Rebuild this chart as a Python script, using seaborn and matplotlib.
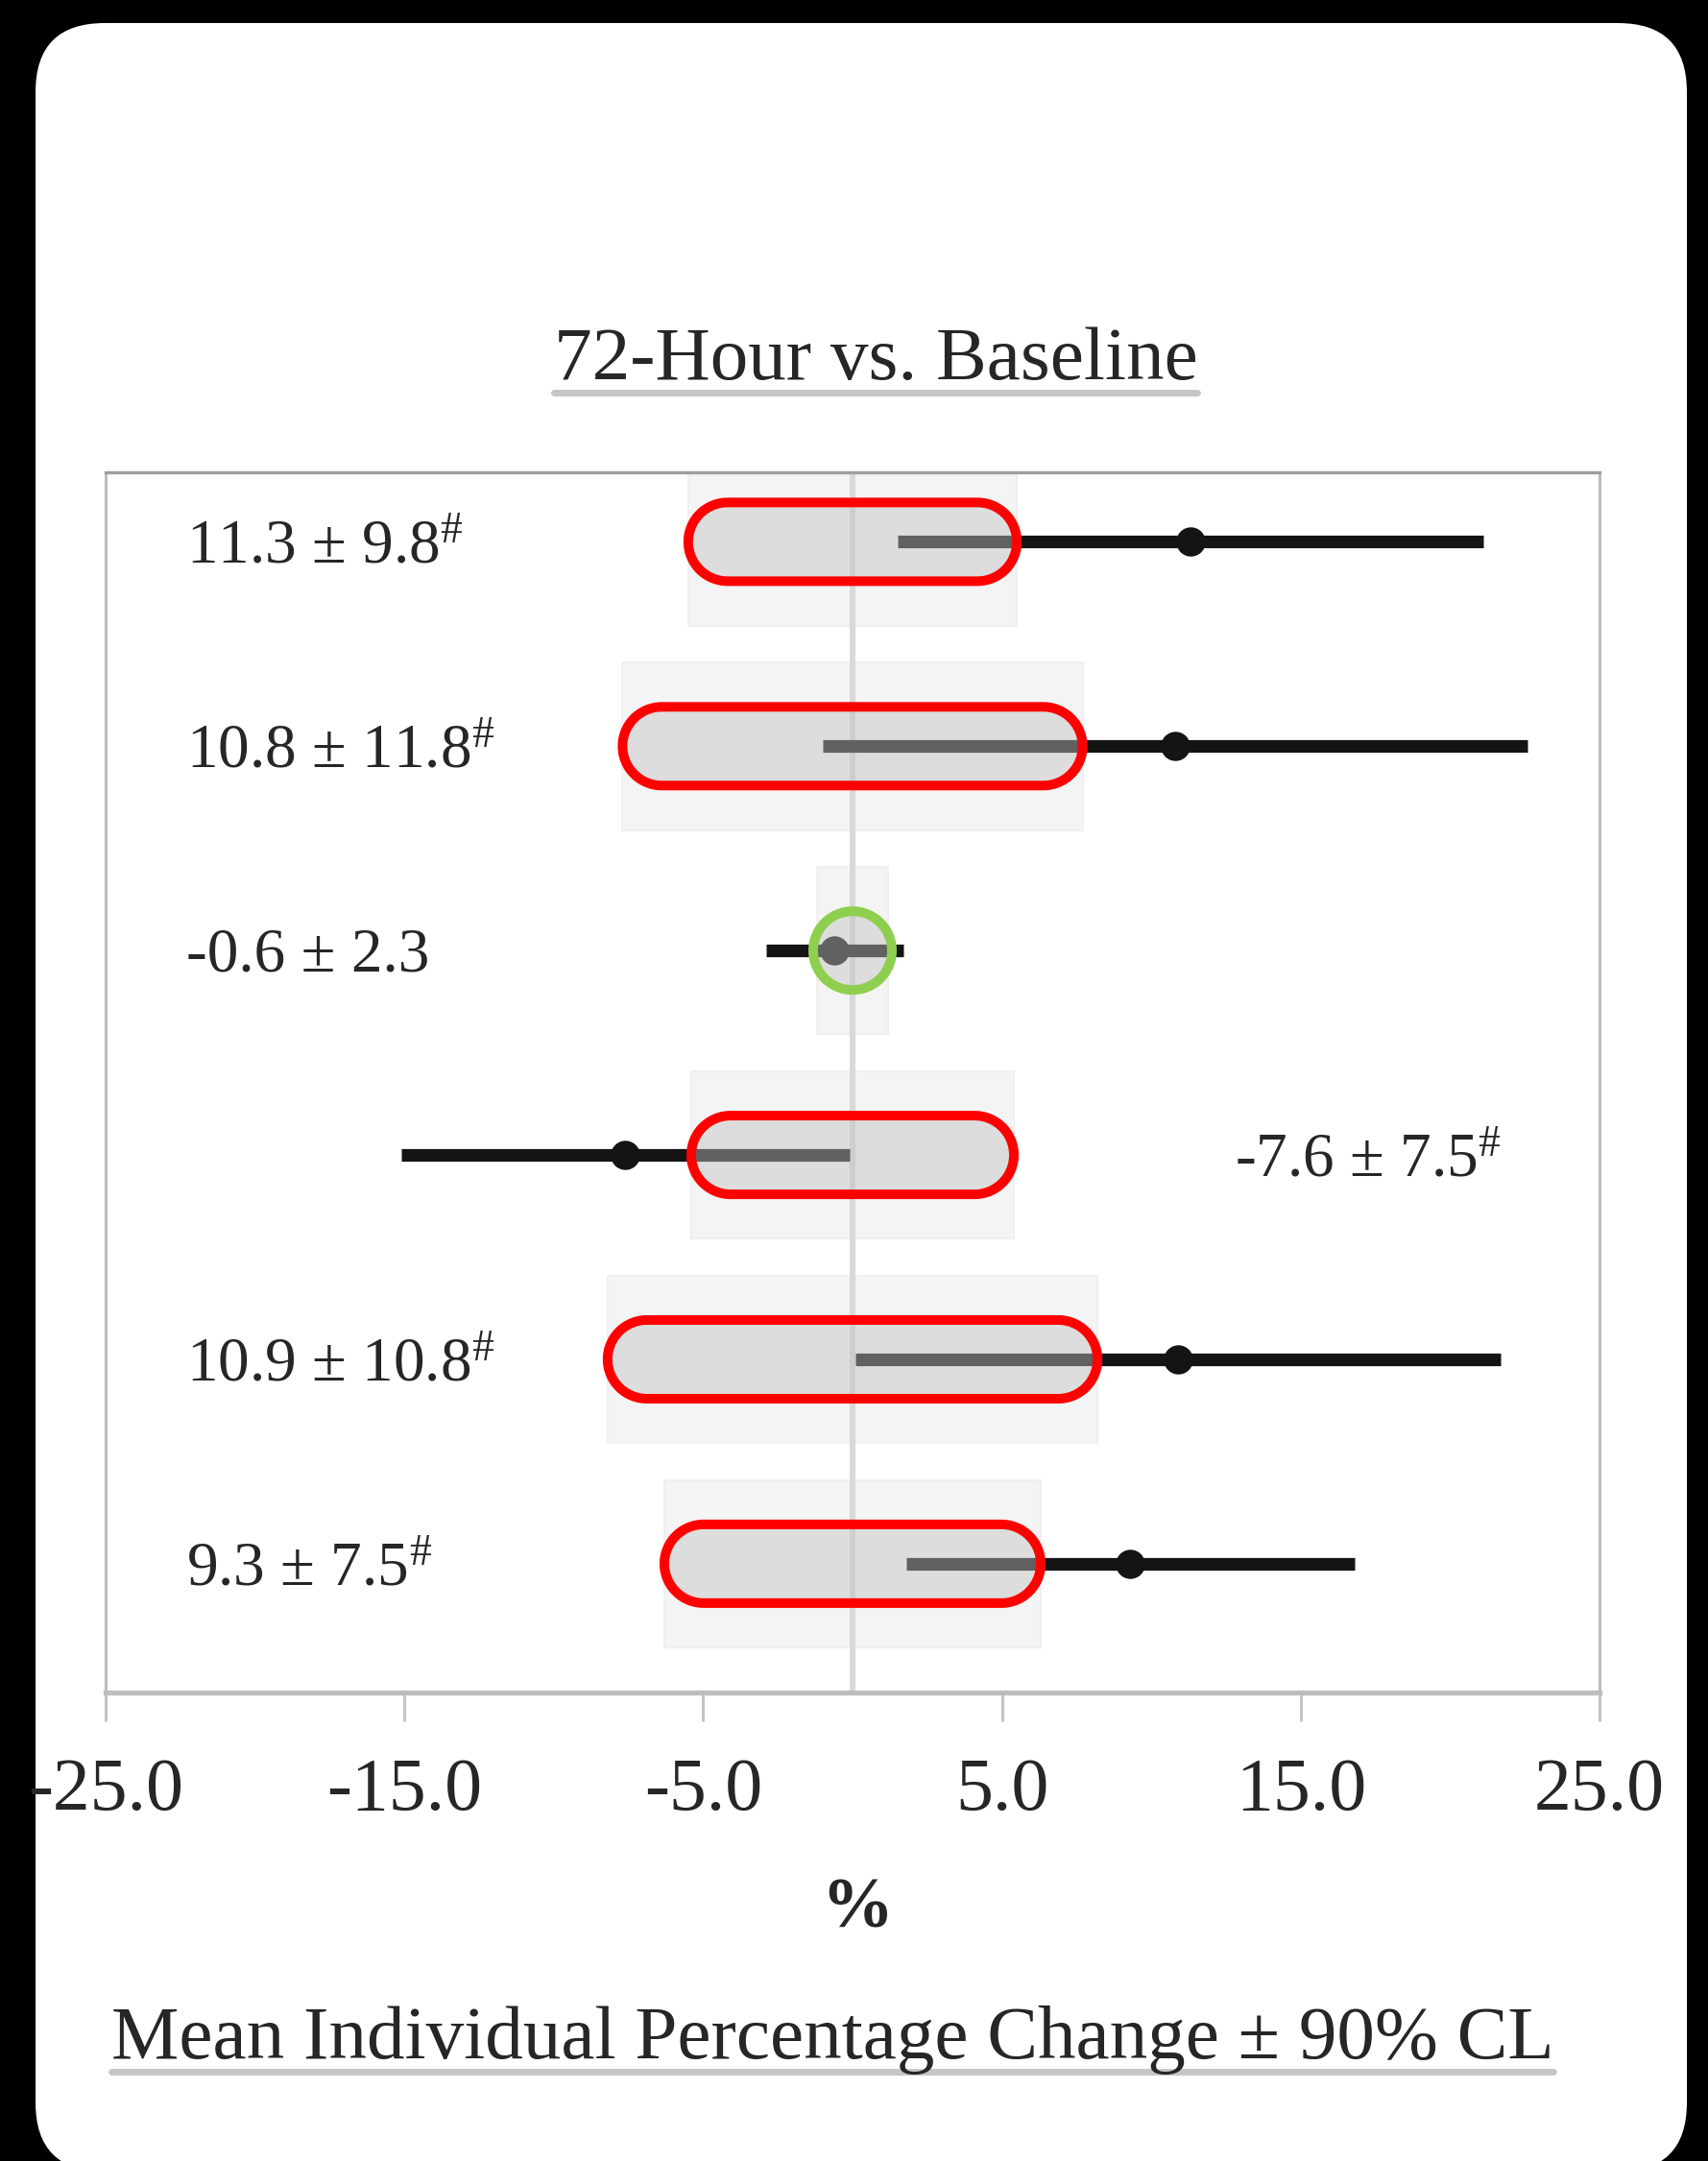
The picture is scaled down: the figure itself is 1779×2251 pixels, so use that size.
import numpy as np
import pandas as pd
import matplotlib
import matplotlib.pyplot as plt
from matplotlib.patches import FancyBboxPatch, Ellipse, Polygon
from matplotlib.lines import Line2D
from matplotlib.transforms import IdentityTransform
import seaborn as sns

matplotlib.use("Agg")

# Values (72-hour vs baseline)
means = [11.3, 10.8, -0.6, -7.6, 10.9, 9.3]
cl90 = [9.8, 11.8, 2.3, 7.5, 10.8, 7.5]
swc = [5.5, 7.7, 1.2, 5.4, 8.2, 6.3]          # half width of the trivial zone
flagged = [True, True, False, True, True, True]
xticks = [-25, -15, -5, 5, 15, 25]

# Colors and style
c_ink = "#141414"
c_text = "#262626"
c_zone = "#f4f4f4"
c_pill = (0.75, 0.757, 0.75, 0.45)
c_red = "#ff0000"
c_green = "#8fcf4f"
W, H = 1779, 2251

df = pd.DataFrame({"row": np.arange(len(means)), "mean": means, "cl": cl90,
                   "swc": swc, "flag": flagged})
df["lo"] = df["mean"] - df["cl"]
df["hi"] = df["mean"] + df["cl"]
df["label"] = [f"{m:.1f} ± {c:.1f}" + (r"$^{\#}$" if f else "")
               for m, c, f in zip(df["mean"], df["cl"], df["flag"])]

sns.set_theme(style="white")
plt.rcParams["font.family"] = ["Liberation Serif", "DejaVu Serif"]
plt.rcParams["mathtext.fontset"] = "custom"
plt.rcParams["mathtext.rm"] = "Liberation Serif"
plt.rcParams["mathtext.it"] = "Liberation Serif"
plt.rcParams["axes.unicode_minus"] = False

fig = plt.figure(figsize=(W / 100, H / 100), dpi=100, facecolor="black")

# white rounded card of the screenshot
card = FancyBboxPatch((0.37, -0.11), 17.20, 22.38,
                      boxstyle="round,pad=0,rounding_size=0.72",
                      transform=fig.dpi_scale_trans,
                      facecolor="white", edgecolor="none", zorder=0)
fig.add_artist(card)

ax = fig.add_axes([110 / W, 1 - 1763 / H, 1556 / W, 1271 / H])
ax.set_facecolor("white")
ax.set_xlim(-25, 25)
ax.set_ylim(5.63, -0.34)

# pixel size of one data unit
p0 = ax.transData.transform((0, 0))
p1 = ax.transData.transform((1, 1))
sx, sy = p1[0] - p0[0], abs(p1[1] - p0[1])


def stadium(x0, x1, yc, r_px, n=40):
    """pill outline between x0 and x1 (data), end radius r_px pixels"""
    rx, ry = r_px / sx, r_px / sy
    t = np.linspace(-np.pi / 2, np.pi / 2, n)
    right = np.column_stack([x1 - rx + rx * np.cos(t), yc + ry * np.sin(t)])
    left = np.column_stack([x0 + rx - rx * np.cos(t), yc - ry * np.sin(t)])
    return np.vstack([right, left])


# trivial zones
ax.barh(df["row"], 2 * df["swc"], left=-df["swc"], height=0.82,
        color=c_zone, edgecolor="#f0f0f0", linewidth=1.5, zorder=0.5)
ax.axvline(0, color="#d9d9d9", lw=4.3, zorder=1)

# confidence limits and means
ax.hlines(df["row"], df["lo"], df["hi"], color=c_ink, lw=9.5, zorder=2)
sns.scatterplot(data=df, x="mean", y="row", color=c_ink, s=480,
                linewidth=0, zorder=3, ax=ax, legend=False)

# highlight marks (red pills, green circle)
for _, r in df.iterrows():
    if r["flag"]:
        p = Polygon(stadium(-r["swc"], r["swc"], r["row"], 41), closed=True,
                    facecolor=c_pill, edgecolor=c_red, lw=7.2, zorder=4)
    else:
        p = Ellipse((0, r["row"]), 2 * 41 / sx, 2 * 41 / sy,
                    facecolor=c_pill, edgecolor=c_green, lw=7.2, zorder=4)
    ax.add_patch(p)

# row labels
for _, r in df.iterrows():
    x = -22.3 if r["hi"] > 0 else 12.8
    ax.text(x, r["row"] + 0.1, r["label"], ha="left", va="baseline",
            fontsize=47, color=c_text, zorder=5)

ax.set_xticks(xticks)
ax.set_xticklabels([f"{t:.1f}" for t in xticks])
ax.set_yticks([])
ax.set_xlabel("")
ax.set_ylabel("")
ax.tick_params(axis="x", bottom=True, direction="out", length=21.6, width=2.2,
               color="#c4c4c4", pad=27, labelsize=56, labelcolor=c_text)
for side, col, lw in [("top", "#9f9f9f", 2.4), ("left", "#bdbdbd", 2.2),
                      ("right", "#bdbdbd", 2.2), ("bottom", "#bdbdbd", 3.8)]:
    ax.spines[side].set_visible(True)
    ax.spines[side].set_color(col)
    ax.spines[side].set_linewidth(lw)

title = fig.text(912 / W, 1 - 376 / H, "72-Hour vs. Baseline", ha="center",
                 va="center", fontsize=57, color=c_text)
fig.text(893 / W, 1 - 1989 / H, "%", ha="center", va="center",
         fontsize=54, fontweight="bold", color=c_text)
foot = fig.text(867 / W, 1 - 2125 / H, "Mean Individual Percentage Change ± 90% CL",
                ha="center", va="center", fontsize=57, color=c_text)

# gray underlines below the two headings
fig.canvas.draw()
rend = fig.canvas.get_renderer()
for t in (title, foot):
    bb = t.get_window_extent(rend)
    fig.add_artist(Line2D([bb.x0, bb.x1], [bb.y0 + 3, bb.y0 + 3], color="#c6c6c6",
                          lw=5, transform=IdentityTransform()))

fig.savefig("out.png", dpi=100, facecolor="black")
plt.close(fig)
